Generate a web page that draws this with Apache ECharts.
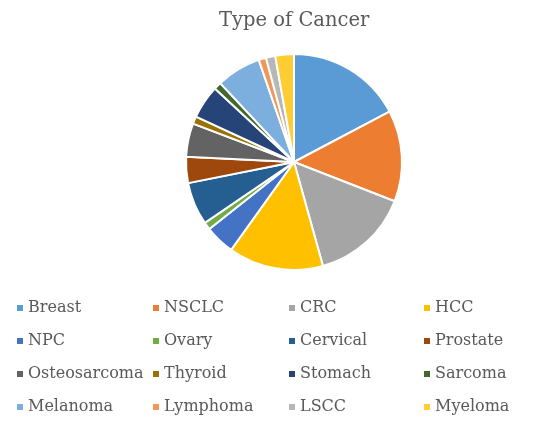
<!DOCTYPE html>
<html>
<head>
<meta charset="utf-8">
<script src="https://cdn.jsdelivr.net/npm/echarts@6/dist/echarts.min.js"></script>
<style>
  html, body { margin: 0; padding: 0; background: #fff; }
  #chart { width: 550px; height: 421px; }
</style>
</head>
<body>
<div id="chart"></div>
<script>
'use strict';

// slice data (clockwise from 12 o'clock)
var cancerTypes = ['Breast', 'NSCLC', 'CRC', 'HCC', 'NPC', 'Ovary', 'Cervical', 'Prostate',
    'Osteosarcoma', 'Thyroid', 'Stomach', 'Sarcoma', 'Melanoma', 'Lymphoma', 'LSCC', 'Myeloma'];
var cancerCounts = [62, 49, 53, 51, 16, 4, 23, 14, 18, 4, 18, 4, 24, 4, 5, 10];
var sliceColors = ['#5B9BD5', '#ED7D31', '#A5A5A5', '#FFC000', '#4472C4', '#70AD47', '#255E91', '#9E480E',
    '#636363', '#997300', '#264478', '#43682B', '#7CAFDD', '#F1975A', '#B7B7B7', '#FFCD33'];

var chart = echarts.init(document.getElementById('chart'));

var pieData = cancerTypes.map(function (name, i) {
    return {name: name, value: cancerCounts[i]};
});

// four legend columns, items laid out row by row
var colLeft = [10, 146, 282, 417];
var legends = colLeft.map(function (left, c) {
    var items = [];
    for (var i = c; i < cancerTypes.length; i += 4) {
        items.push(cancerTypes[i]);
    }
    return {
        orient: 'vertical',
        left: left,
        top: 295,
        itemWidth: 8,
        itemHeight: 8,
        itemGap: 17,
        icon: 'rect',
        selectedMode: false,
        data: items,
        textStyle: {
            fontFamily: 'DejaVu Serif',
            fontSize: 16,
            color: '#595959',
            padding: [0, 0, 0, -1]
        }
    };
});

chart.setOption({
    animation: false,
    color: sliceColors,
    title: {
        text: 'Type of Cancer',
        left: 214,
        top: 6,
        textStyle: {
            fontFamily: 'DejaVu Serif',
            fontSize: 19.5,
            fontWeight: 'normal',
            color: '#595959'
        }
    },
    legend: legends,
    series: [{
        type: 'pie',
        center: [294, 162],
        radius: 108,
        startAngle: 90,
        clockwise: true,
        label: {show: false},
        labelLine: {show: false},
        itemStyle: {borderColor: '#fff', borderWidth: 2},
        data: pieData
    }]
});
</script>
</body>
</html>
